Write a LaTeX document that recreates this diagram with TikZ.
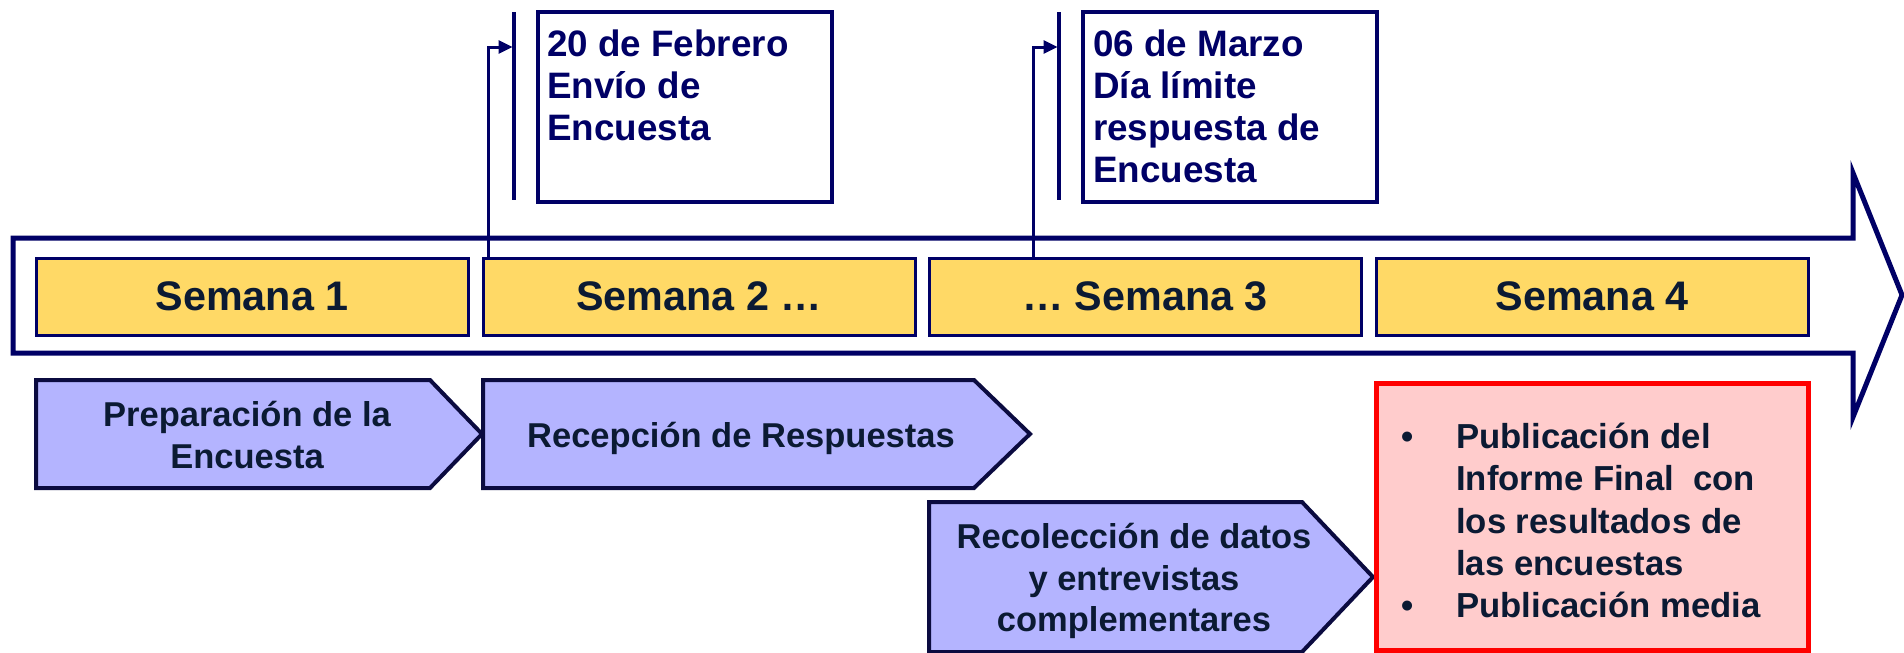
\documentclass[tikz,border=0pt]{standalone}
\usepackage{fontspec}
\setmainfont{Liberation Sans}
\usetikzlibrary{arrows.meta,calc}
\definecolor{navy}{HTML}{000066}
\definecolor{darktext}{HTML}{0B1A33}
\definecolor{phaseline}{HTML}{0B0B40}
\definecolor{weekfill}{HTML}{FFD966}
\definecolor{phasefill}{HTML}{B4B4FF}
\definecolor{pinkfill}{HTML}{FFCCCC}
\definecolor{redline}{HTML}{FF0000}
\tikzset{
  bigarrow/.style={draw=navy, line width=5pt, fill=white},
  week/.style={draw=navy, line width=3pt, fill=weekfill, minimum width=432pt, minimum height=77pt, inner sep=0pt,
    text=darktext, font=\fontsize{41.3pt}{48pt}\selectfont\bfseries},
  callbox/.style={draw=navy, line width=3.5pt, fill=white, minimum width=294pt, minimum height=190pt, inner sep=0pt},
  calltext/.style={text=navy, align=left, inner sep=0pt, anchor=north west, font=\fontsize{36.8pt}{42pt}\selectfont\bfseries},
  barline/.style={draw=navy, line width=3.5pt},
  conn/.style={draw=navy, line width=3pt, -{Triangle[length=14pt,width=13pt]}},
  phase/.style={draw=phaseline, line width=4pt, fill=phasefill, line join=miter},
  phasetext/.style={text=darktext, align=center, inner sep=0pt, font=\fontsize{34.5pt}{41.5pt}\selectfont\bfseries},
  redbox/.style={draw=redline, line width=5pt, fill=pinkfill, minimum width=432pt, minimum height=267pt, inner sep=0pt},
  redtext/.style={text=darktext, align=left, inner sep=0pt, anchor=north west, font=\fontsize{34.7pt}{42.3pt}\selectfont\bfseries}
}
\begin{document}
\begin{tikzpicture}[x=1pt,y=-1pt]
\useasboundingbox (0,0) rectangle (1904,653);

% big timeline arrow
\draw[bigarrow] (13,238) -- (1853,238) -- (1853,173) -- (1902,295) -- (1853,417) -- (1853,353) -- (13,353) -- cycle;

% weeks
\node[week] (s1) at (252,296.5) {Semana 1};
\node[week] (s2) at (699,296.5) {Semana 2 …};
\node[week] (s3) at (1145,296.5) {… Semana 3};
\node[week] (s4) at (1592,296.5) {Semana 4};

% callouts
\node[callbox] (cb1) at (685,107) {};
\node[calltext] (ct1) at (547,29.5) {20 de Febrero\\Envío de\\Encuesta};
\coordinate (b1top) at (514,12);
\coordinate (b1bot) at (514,200);
\draw[barline] (b1top) -- (b1bot);
\coordinate (b1hit) at (512.5,47);
\draw[conn] ($(s2.north west)+(7,0)$) |- (b1hit);

\node[callbox] (cb2) at (1230,107) {};
\node[calltext] (ct2) at (1093,29.5) {06 de Marzo\\Día límite\\respuesta de\\Encuesta};
\coordinate (b2top) at (1059,12);
\coordinate (b2bot) at (1059,200);
\draw[barline] (b2top) -- (b2bot);
\coordinate (b2hit) at (1057.5,47);
\draw[conn] ($(s3.north west)+(106,0)$) |- (b2hit);

% phases
\draw[phase] (36,380) -- (430,380) -- (482,434) -- (430,488) -- (36,488) -- cycle;
\node[phasetext] (p1) at (247,435) {Preparación de la\\Encuesta};
\draw[phase] (483,380) -- (974,380) -- (1030,434) -- (974,488) -- (483,488) -- cycle;
\node[phasetext] (p2) at (741,438) {Recepción de Respuestas};
\draw[phase] (929,502) -- (1302,502) -- (1373,577) -- (1302,652) -- (929,652) -- cycle;
\node[phasetext] (p3) at (1134,581) {Recolección de datos\\y entrevistas\\complementares};

% final results
\node[redbox] (rb) at (1592,516.5) {};
\node[redtext] (rt) at (1401,423) {\makebox[55pt][l]{•}Publicación del\\\hspace*{55pt}Informe Final~ con\\\hspace*{55pt}los resultados de\\\hspace*{55pt}las encuestas\\\makebox[55pt][l]{•}Publicación media};
\end{tikzpicture}
\end{document}
